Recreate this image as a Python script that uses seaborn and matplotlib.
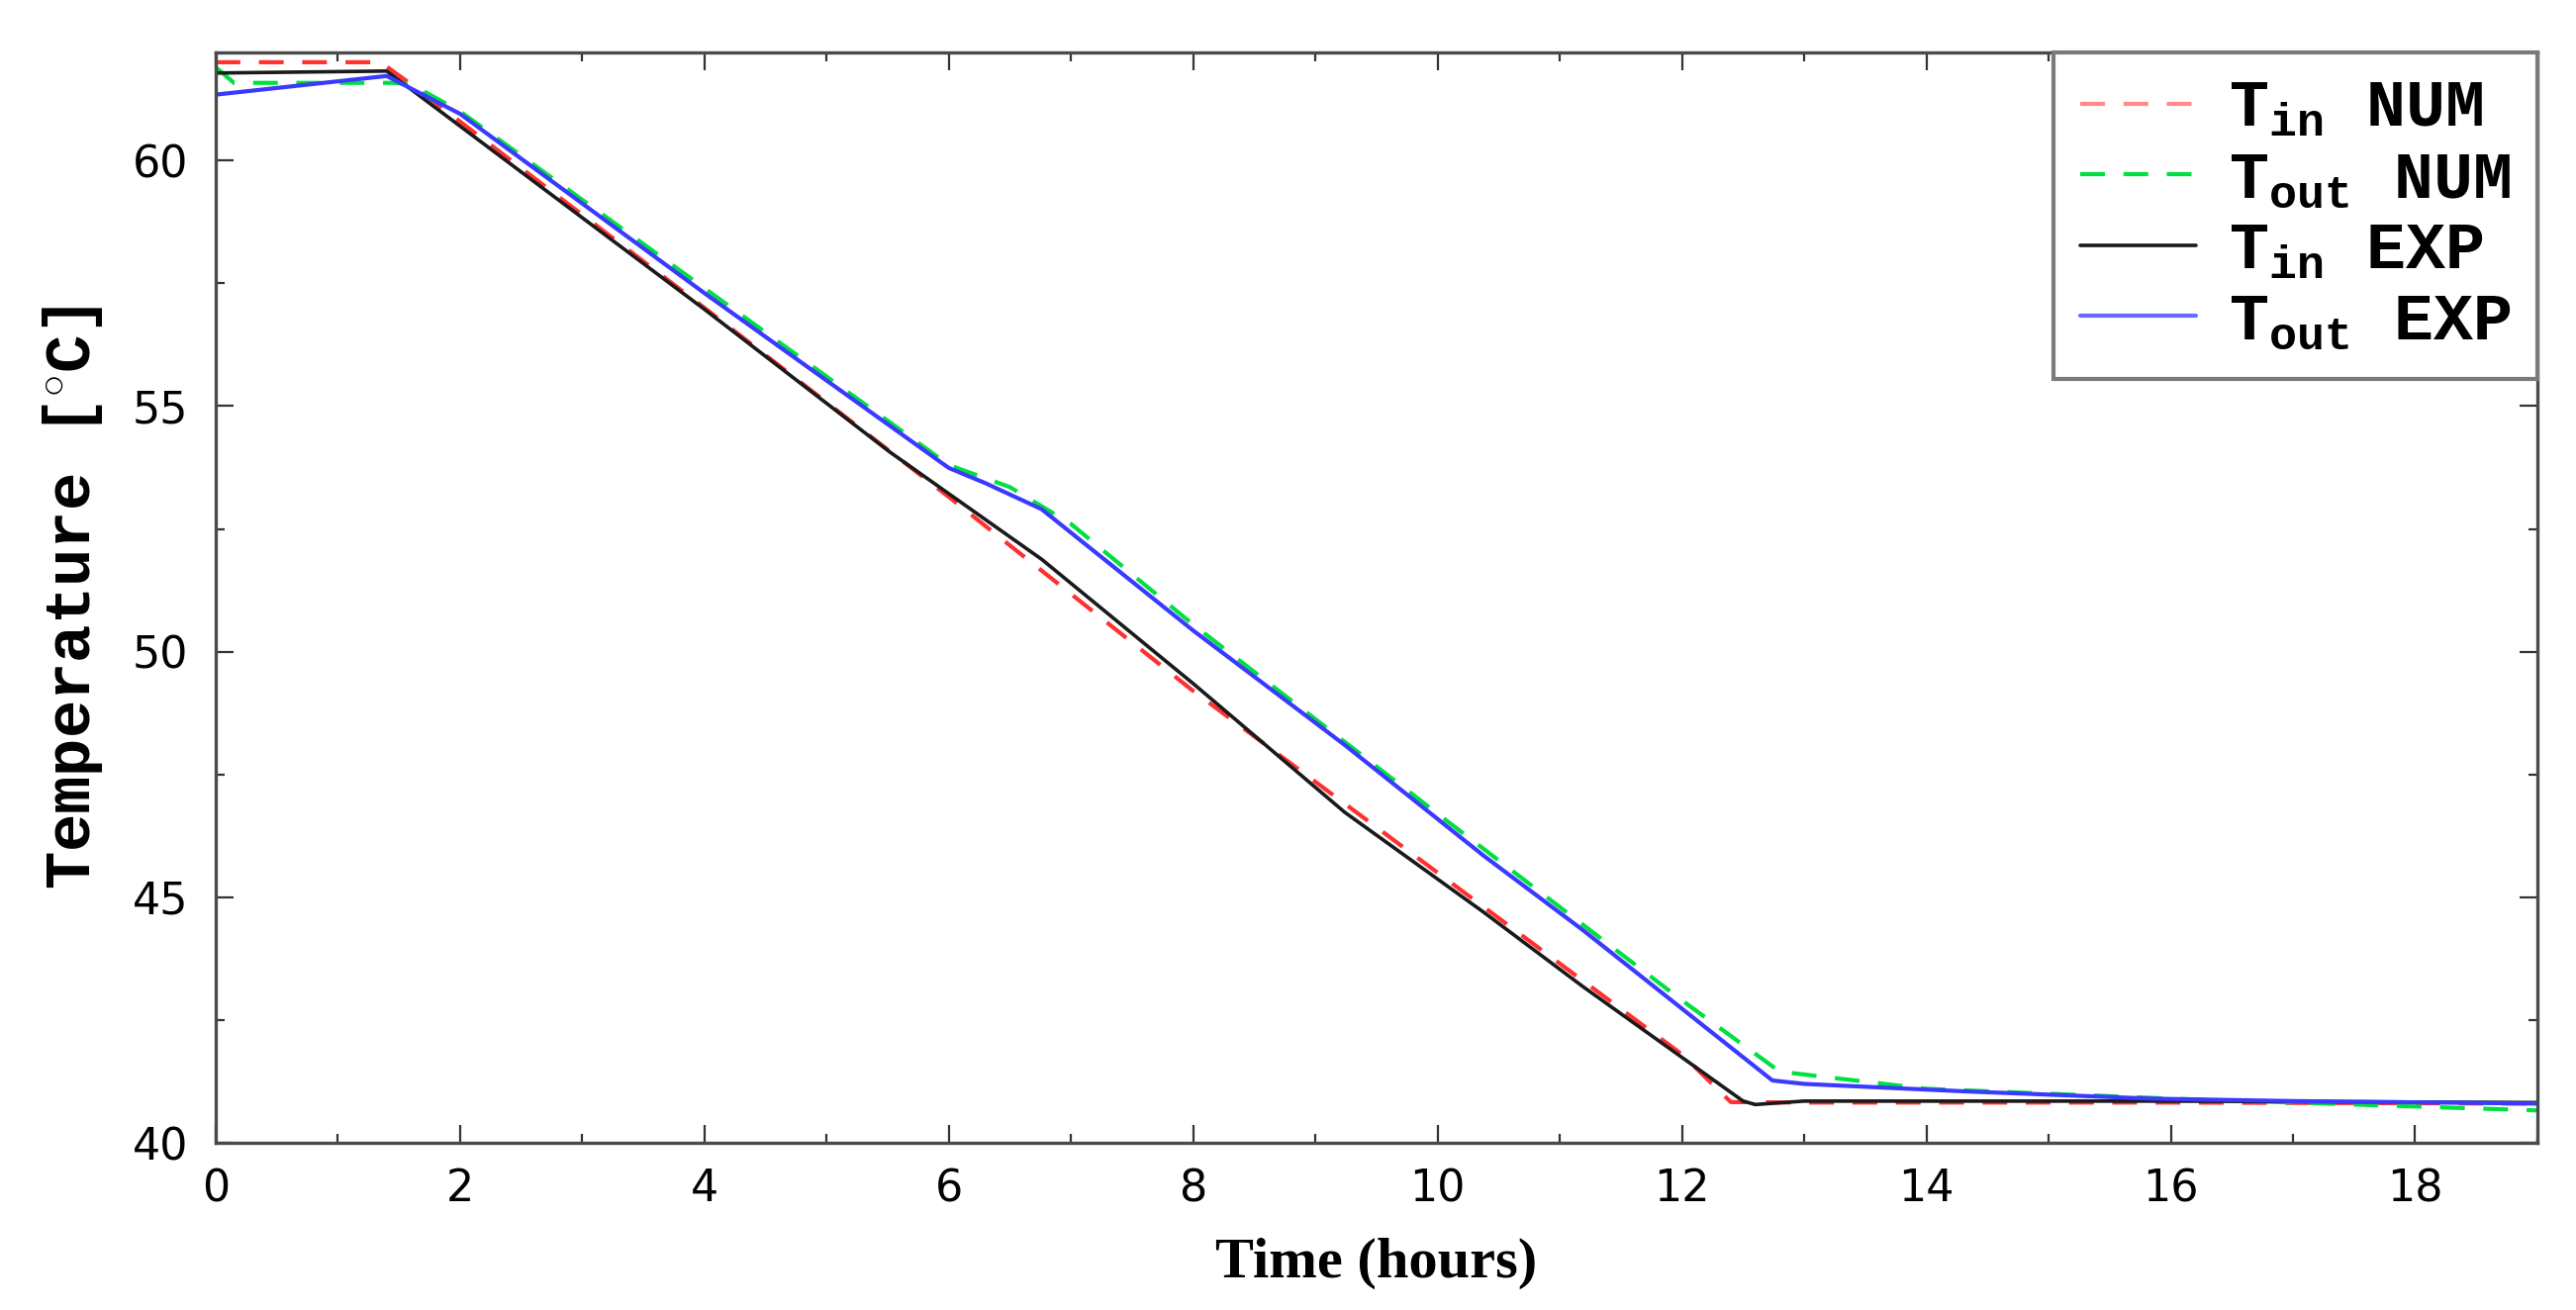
import matplotlib
matplotlib.use("Agg")
import matplotlib.pyplot as plt
import seaborn as sns
from matplotlib.font_manager import FontProperties
from matplotlib.ticker import MultipleLocator

# ---- data ----
t_in_num = [0, 1.35, 1.6, 4, 6, 8, 10, 12, 12.4, 13, 16, 19]
T_in_num = [62.0, 62.0, 61.55, 57.0, 53.15, 49.2, 45.5, 41.8, 40.83, 40.82, 40.82, 40.8]

t_out_num = [0, 0.15, 1.45, 1.6, 2, 4, 6, 6.5, 7, 8, 10, 12, 12.8, 14, 16, 19]
T_out_num = [61.9, 61.58, 61.58, 61.55, 61.0, 57.4, 53.8, 53.35, 52.6, 50.55, 46.7, 42.9, 41.45, 41.1, 40.9, 40.66]

t_in_exp = [0, 1.4, 2, 4, 5.52, 6.76, 8, 9.24, 10.38, 11.19, 12.5, 12.6, 13, 16, 19]
T_in_exp = [61.78, 61.82, 60.7, 56.97, 54.06, 51.88, 49.35, 46.73, 44.69, 43.18, 40.85, 40.78, 40.85, 40.85, 40.82]

t_out_exp = [0, 1.4, 2, 4, 6, 6.3, 6.76, 8, 9.24, 10.38, 11.19, 12.74, 13, 14.3, 15.84, 17, 19]
T_out_exp = [61.34, 61.72, 60.95, 57.3, 53.74, 53.43, 52.9, 50.43, 48.1, 45.84, 44.33, 41.27, 41.2, 41.05, 40.9, 40.85, 40.8]

series_labels = [r"$\mathrm{T_{in}}$ NUM", r"$\mathrm{T_{out}}$ NUM",
                 r"$\mathrm{T_{in}}$ EXP", r"$\mathrm{T_{out}}$ EXP"]
xticks = [0, 2, 4, 6, 8, 10, 12, 14, 16, 18]
yticks = [40, 45, 50, 55, 60]

# ---- style ----
sns.set_theme(style="ticks")
plt.rcParams["font.family"] = ["DejaVu Sans"]
plt.rcParams["mathtext.fontset"] = "custom"
plt.rcParams["mathtext.rm"] = "Liberation Mono:bold"
plt.rcParams["mathtext.it"] = "Liberation Mono:bold"
plt.rcParams["mathtext.bf"] = "Liberation Mono:bold"

fig = plt.figure(figsize=(26.03, 13.24), dpi=100)
ax = fig.add_axes([0.0837, 0.1276, 0.9013, 0.8324])

lw = 3.0
dash = (0, (6, 4.5))
sns.lineplot(x=t_in_num, y=T_in_num, ax=ax, color="#ff3030", linestyle=dash, lw=lw,
             label=series_labels[0], sort=False)
sns.lineplot(x=t_out_num, y=T_out_num, ax=ax, color="#00e040", linestyle=dash, lw=lw,
             label=series_labels[1], sort=False)
sns.lineplot(x=t_in_exp, y=T_in_exp, ax=ax, color="#1a1a1a", linestyle="-", lw=2.6,
             label=series_labels[2], sort=False)
sns.lineplot(x=t_out_exp, y=T_out_exp, ax=ax, color="#3a3aff", linestyle="-", lw=lw,
             label=series_labels[3], sort=False)

ax.set_xlim(0, 19)
ax.set_ylim(40, 62.2)
ax.set_xticks(xticks)
ax.set_yticks(yticks)
ax.xaxis.set_minor_locator(MultipleLocator(1))
ax.yaxis.set_minor_locator(MultipleLocator(2.5))
ax.tick_params(which="both", direction="in", top=True, right=True, color="#333333", width=1.6,
               labelcolor="black")
ax.tick_params(which="major", length=13, labelsize=32)
ax.tick_params(which="minor", length=6.5)
ax.tick_params(axis="y", which="major", pad=20)
ax.tick_params(axis="x", which="major", pad=18)

for s in ax.spines.values():
    s.set_color("#4a4a4a")
    s.set_linewidth(2.4)
    s.set_visible(True)

ax.set_xlabel("Time (hours)", family="Liberation Serif", weight="bold", fontsize=42,
              labelpad=20, color="black")
ax.set_ylabel(r"Temperature [$^{\circ}$C]", family="Liberation Mono", weight="bold",
              fontsize=46, labelpad=20, color="black")

leg_font = FontProperties(family="Liberation Mono", weight="bold", size=48)
leg = ax.legend(loc="upper right", prop=leg_font, frameon=True, fancybox=False,
                borderaxespad=0.0, handlelength=1.75, handletextpad=0.5,
                labelspacing=0.14, borderpad=0.4)
leg.get_frame().set_edgecolor("#7a7a7a")
leg.get_frame().set_linewidth(3)
leg.get_frame().set_alpha(1)
for line, c in zip(leg.get_lines(), ["#ff8a8a", "#00e040", "#1a1a1a", "#6a6aff"]):
    line.set_color(c)
for txt in leg.get_texts():
    txt.set_color("black")

fig.savefig("out.png", dpi=100)
